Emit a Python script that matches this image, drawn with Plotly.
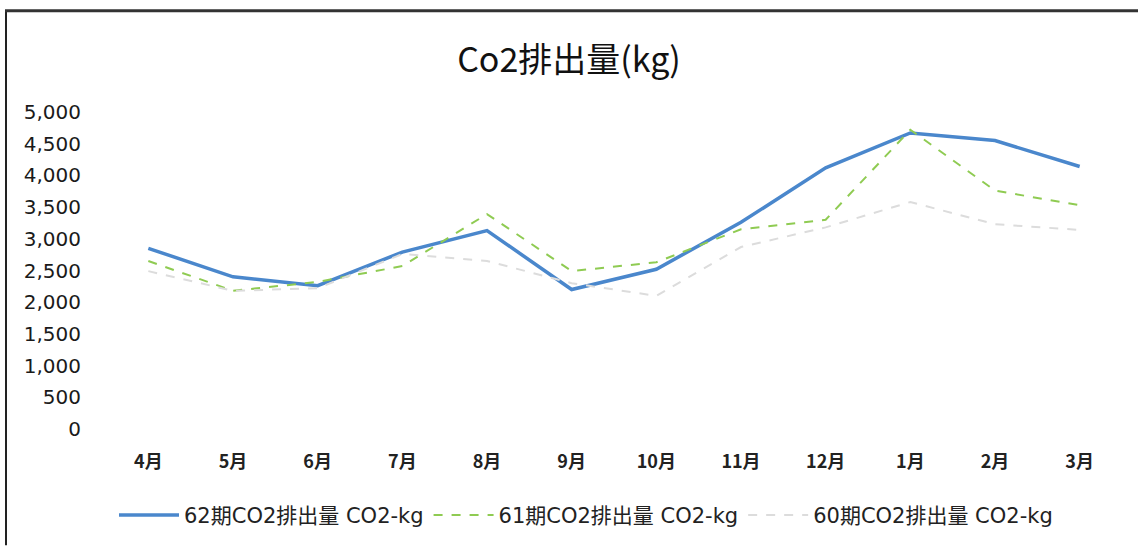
import plotly.graph_objects as go

months = ['4月', '5月', '6月', '7月', '8月', '9月', '10月', '11月', '12月', '1月', '2月', '3月']
co2_62 = [2850, 2400, 2260, 2790, 3130, 2200, 2520, 3260, 4120, 4670, 4550, 4140]
co2_61 = [2650, 2180, 2320, 2570, 3390, 2490, 2630, 3150, 3300, 4720, 3760, 3530]
co2_60 = [2490, 2180, 2220, 2760, 2650, 2300, 2100, 2870, 3180, 3580, 3230, 3140]

names = ['62期CO2排出量 CO2-kg', '61期CO2排出量 CO2-kg', '60期CO2排出量 CO2-kg']

W, H = 1138, 548
ml, mr, mt, mb = 106, 16, 112, 117
pw, ph = W - ml - mr, H - mt - mb
font = 'Noto Sans CJK JP'
wide = 'DejaVu Sans, Noto Sans CJK JP'

fig = go.Figure()
fig.add_trace(go.Scatter(x=months, y=co2_62, mode='lines', name=names[0],
                         line=dict(color='#4a87cc', width=3.5)))
fig.add_trace(go.Scatter(x=months, y=co2_61, mode='lines', name=names[1],
                         line=dict(color='#8fcb52', width=2, dash='dash')))
fig.add_trace(go.Scatter(x=months, y=co2_60, mode='lines', name=names[2],
                         line=dict(color='#dcdcdc', width=2, dash='dash')))

# frame lines (left and top) like the scanned sheet
def px(x):
    return (x - ml) / pw

def py(y):
    return (H - mb - y) / ph

fig.add_shape(type='line', xref='paper', yref='paper', x0=px(6), x1=px(6), y0=py(548), y1=py(10),
              line=dict(color='#222', width=2))
fig.add_shape(type='line', xref='paper', yref='paper', x0=px(5), x1=px(1138), y0=py(10), y1=py(10),
              line=dict(color='#333', width=3))

fig.update_layout(
    width=W, height=H,
    margin=dict(l=ml, r=mr, t=mt, b=mb),
    paper_bgcolor='white', plot_bgcolor='white',
    font=dict(family=font, color='#222'),
    title=dict(text='Co2排出量(kg)', x=0.5, xanchor='center', y=1 - 60 / H, yanchor='middle',
               font=dict(size=34, color='#111', family=font)),
    legend=dict(orientation='h', x=px(586), xanchor='center', y=py(518), yanchor='middle',
                font=dict(size=21, color='#222', family=wide), itemwidth=60),
    showlegend=True,
)
fig.update_xaxes(type='category', range=[-0.5, 11.5], showgrid=False, showline=False, zeroline=False,
                 tickfont=dict(size=18, color='#222', weight=600), ticklabelstandoff=20)
fig.update_yaxes(range=[0, 5000], dtick=500, tickformat=',d', showgrid=False, showline=False,
                 zeroline=False, tickfont=dict(size=20, color='#1a1a1a', family=wide), ticklabelstandoff=24)

fig.write_html('out.html', config={'displayModeBar': False},
               post_script="document.body.style.margin='0';")
